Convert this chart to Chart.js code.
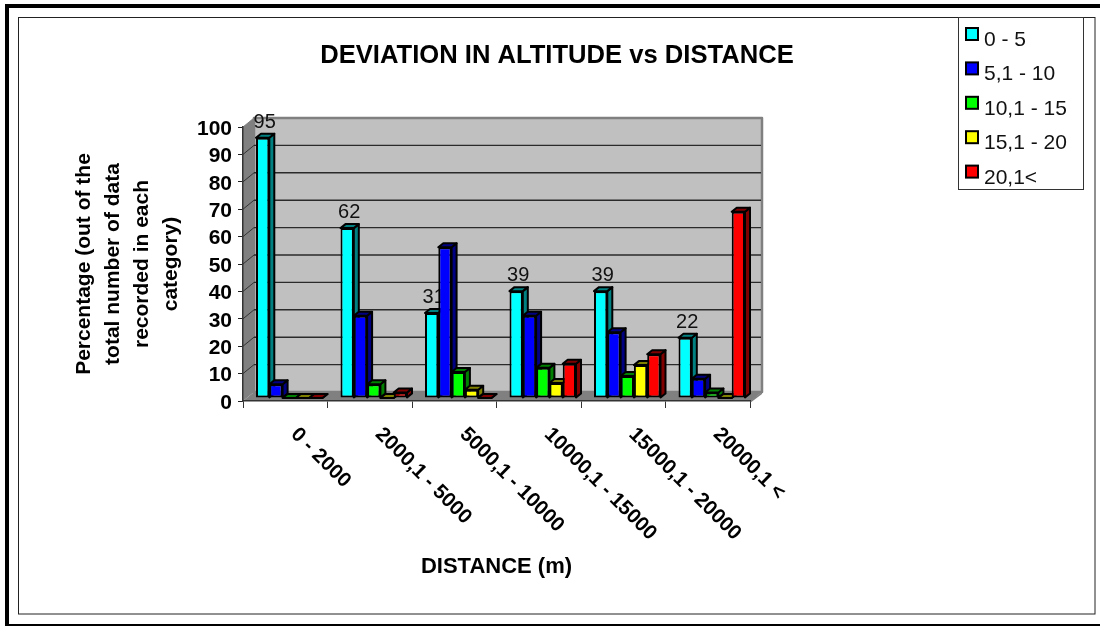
<!DOCTYPE html>
<html>
<head>
<meta charset="utf-8">
<script src="https://cdn.jsdelivr.net/npm/chart.js@4"></script>
<style>
  html, body { margin: 0; padding: 0; background: #fff; }
  canvas { display: block; }
</style>
</head>
<body>
<div style="width:1100px;height:626px"><canvas id="chart" width="1100" height="626"></canvas></div>
<script>
const titleText = 'DEVIATION IN ALTITUDE vs DISTANCE';
const xTitle = 'DISTANCE (m)';
const yTitle = ['Percentage (out of the', 'total number of data', 'recorded in each', 'category)'];
const categories = ['0 - 2000', '2000,1 - 5000', '5000,1 - 10000', '10000,1 - 15000', '15000,1 - 20000', '20000,1 <'];
const seriesNames = ['0 - 5', '5,1 - 10', '10,1 - 15', '15,1 - 20', '20,1<'];
const s0to5 = [95, 62, 31, 39, 39, 22];
const s5to10 = [5, 30, 55, 30, 24, 7];
const s10to15 = [0, 5, 9.5, 11, 8, 2];
const s15to20 = [0, 0, 3, 5.5, 12, 0];
const s20plus = [0, 2, 0, 12.5, 16, 68];
const seriesValues = [s0to5, s5to10, s10to15, s15to20, s20plus];
const frontColors = ['#00ffff', '#0000ff', '#00ff00', '#ffff00', '#ff0000'];
const darkColors = ['#008080', '#000080', '#008000', '#808000', '#800000'];

const FONT = '"Liberation Sans", Arial, sans-serif';
const WALL = { dx: 11, dy: -9 };    // back wall offset
const SHIFT = { dx: 4, dy: -3 };    // bars sit halfway into the floor
const BAR = { dx: 5, dy: -4 };      // depth of one bar

function poly(ctx, pts, fill, stroke, lw) {
  ctx.beginPath();
  pts.forEach((p, i) => i ? ctx.lineTo(p[0], p[1]) : ctx.moveTo(p[0], p[1]));
  ctx.closePath();
  if (fill) { ctx.fillStyle = fill; ctx.fill(); }
  if (stroke) { ctx.strokeStyle = stroke; ctx.lineWidth = lw; ctx.lineJoin = 'round'; ctx.stroke(); }
}

const scenery = {
  id: 'scenery',
  beforeDraw(chart) {
    const ctx = chart.ctx;
    const { left, right, top, bottom } = chart.chartArea;
    const y = chart.scales.y;
    ctx.save();
    ctx.fillStyle = '#fff';
    ctx.fillRect(0, 0, 1100, 626);
    // picture frame
    ctx.fillStyle = '#000';
    ctx.fillRect(5, 4, 1095, 4);
    ctx.fillRect(5, 4, 4, 622);
    ctx.fillRect(5, 624, 1095, 2);
    ctx.strokeStyle = '#222';
    ctx.lineWidth = 1;
    ctx.strokeRect(18.5, 17.5, 1076.5, 596.5);

    const bx = WALL.dx, by = WALL.dy;
    poly(ctx, [[left, top], [left + bx, top + by], [left + bx, bottom + by], [left, bottom]], '#808080');
    poly(ctx, [[left, bottom], [left + bx, bottom + by], [right + bx + 1, bottom + by], [right + 1, bottom]], '#808080');
    poly(ctx, [[left + bx, top + by], [right + bx + 1, top + by], [right + bx + 1, bottom + by], [left + bx, bottom + by]], '#c0c0c0', '#808080', 2.5);
    poly(ctx, [[right, bottom], [right + bx + 1, bottom + by], [right + bx + 1, bottom + by + 2], [right, bottom + 2]], '#808080');

    // grid lines run across the wall and down the side
    ctx.lineWidth = 1.4;
    y.ticks.forEach(t => {
      const py = y.getPixelForValue(t.value);
      ctx.strokeStyle = '#2a2a2a';
      if (t.value > 0 && t.value < 100) {
        ctx.beginPath();
        ctx.moveTo(left + bx, py + by);
        ctx.lineTo(right + bx, py + by);
        ctx.stroke();
      }
      if (t.value > 0) {
        ctx.lineWidth = 1;
        ctx.strokeStyle = t.value === 100 ? '#808080' : '#333';
        ctx.beginPath();
        ctx.moveTo(left, py);
        ctx.lineTo(left + bx, py + by);
        ctx.stroke();
        ctx.lineWidth = 1.4;
      }
    });
    ctx.restore();
  },
  // the library would draw the last series first, here the first one has to be at the back
  beforeDatasetDraw() { return false; },
  afterDatasetsDraw(chart) {
    const ctx = chart.ctx;
    ctx.save();
    ctx.translate(SHIFT.dx, SHIFT.dy);
    seriesValues.forEach((vals, i) => {
      const meta = chart.getDatasetMeta(i);
      meta.data.forEach(bar => {
        const { x, y, width } = bar.getProps(['x', 'y', 'width'], true);
        const base = bar.getProps(['base'], true).base;
        const l = x - width / 2, r = x + width / 2;
        poly(ctx, [[r, y], [r + BAR.dx, y + BAR.dy], [r + BAR.dx, base + BAR.dy], [r, base]], darkColors[i], '#000', 2);
        poly(ctx, [[l, y], [l + BAR.dx, y + BAR.dy], [r + BAR.dx, y + BAR.dy], [r, y]], darkColors[i], '#000', 2);
      });
      meta.controller.draw();
      if (i === 0) {
        // value labels only on the first series, next bars paint over them
        ctx.fillStyle = '#111';
        ctx.font = '20px ' + FONT;
        ctx.textAlign = 'center';
        ctx.textBaseline = 'alphabetic';
        meta.data.forEach((bar, j) => {
          ctx.fillText(String(vals[j]), bar.x + 2, bar.y - 10);
        });
      }
    });
    ctx.restore();
  },
  afterDraw(chart) {
    const ctx = chart.ctx;
    const xs = chart.scales.x;
    ctx.save();
    ctx.fillStyle = '#000';
    ctx.textBaseline = 'alphabetic';
    ctx.textAlign = 'center';
    ctx.font = 'bold 25.6px ' + FONT;
    ctx.fillText(titleText, 557, 63);

    // category labels lean downwards to the right
    ctx.textAlign = 'left';
    ctx.font = 'bold 20.5px ' + FONT;
    categories.forEach((c, i) => {
      ctx.save();
      ctx.translate(xs.getPixelForValue(i) + 9, 431);
      ctx.rotate(Math.PI / 4);
      ctx.fillText(c, 0, 6);
      ctx.restore();
    });

    // legend
    ctx.fillStyle = '#fff';
    ctx.fillRect(958, 17, 125, 172);
    ctx.strokeStyle = '#333';
    ctx.lineWidth = 1;
    ctx.strokeRect(958.5, 17.5, 125, 172);
    ctx.font = '21px ' + FONT;
    seriesNames.forEach((name, i) => {
      const ly = 28 + i * 34.4;
      ctx.fillStyle = frontColors[i];
      ctx.fillRect(966, ly, 12, 12);
      ctx.strokeStyle = '#000';
      ctx.lineWidth = 2;
      ctx.strokeRect(966, ly, 12, 12);
      ctx.fillStyle = '#111';
      ctx.fillText(name, 984, ly + 18);
    });
    ctx.restore();
  }
};

new Chart(document.getElementById('chart'), {
  type: 'bar',
  data: {
    labels: categories,
    datasets: seriesValues.map((vals, i) => ({
      label: seriesNames[i],
      data: vals,
      backgroundColor: frontColors[i],
      borderColor: '#000',
      borderWidth: 2,
      borderSkipped: false,
      clip: false
    }))
  },
  options: {
    responsive: false,
    animation: false,
    layout: { padding: { left: 0, top: 127, right: 350, bottom: 0 } },
    datasets: { bar: { barPercentage: 1, categoryPercentage: 0.787 } },
    plugins: { legend: { display: false }, title: { display: false }, tooltip: { enabled: false } },
    scales: {
      x: {
        afterFit(scale) { scale.height = 225; },
        ticks: { display: false },
        grid: { drawOnChartArea: false, tickLength: 7, tickColor: '#333', tickWidth: 1, offset: true },
        border: { color: '#333', width: 1.5 },
        title: { display: true, text: xTitle, color: '#000', font: { family: FONT, size: 22, weight: 'bold' }, padding: { top: 0, bottom: 46 } }
      },
      y: {
        min: 0,
        max: 100,
        afterFit(scale) { scale.width = 243; },
        ticks: { stepSize: 10, autoSkip: false, color: '#000', padding: 6, labelOffset: 2, font: { family: FONT, size: 21, weight: 'bold' } },
        grid: { drawOnChartArea: false, tickLength: 5, tickColor: '#222', tickWidth: 1 },
        border: { color: '#333', width: 1.5 },
        title: { display: true, text: yTitle, color: '#000', font: { family: FONT, size: 21, weight: 'bold', lineHeight: 1.38 }, padding: { top: 70, bottom: 0 } }
      }
    }
  },
  plugins: [scenery]
});
</script>
</body>
</html>
